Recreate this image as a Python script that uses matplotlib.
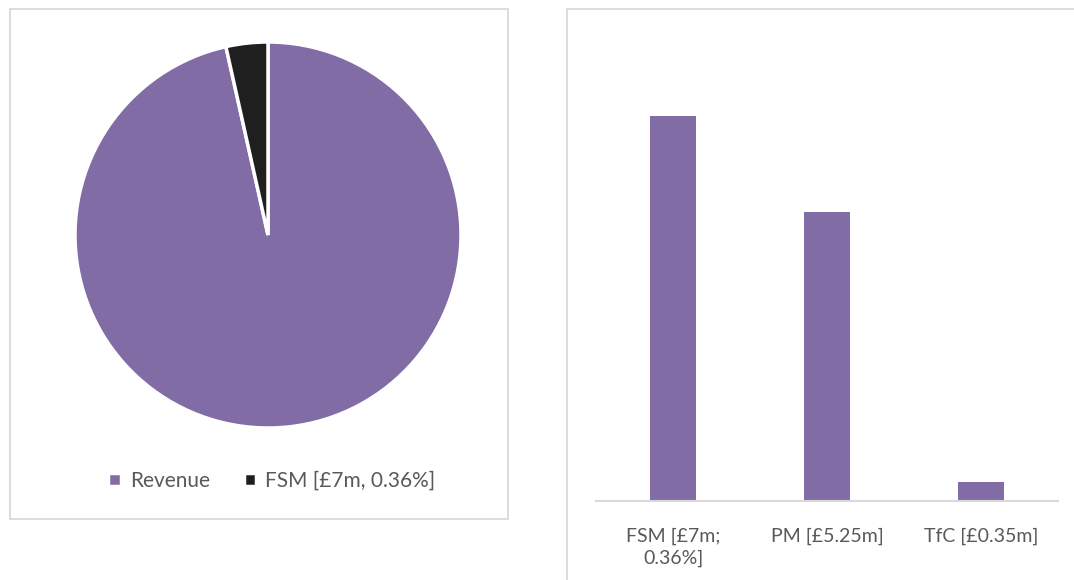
import matplotlib.pyplot as plt
from matplotlib.patches import Rectangle

plt.rcParams['font.family'] = ['Lato', 'DejaVu Sans']

# pie data
pie_labels = ['Revenue', 'FSM [£7m, 0.36%]']
pie_values = [96.5, 3.5]
pie_colors = ['#826CA6', '#1F1F1F']

# bar data
bar_labels = ['FSM [£7m;\n0.36%]', 'PM [£5.25m]', 'TfC [£0.35m]']
bar_values = [7, 5.25, 0.35]

PURPLE = '#826CA6'
TEXT = '#595959'
FRAME = '#D9D9D9'

W, H = 1074, 580
fig = plt.figure(figsize=(W / 100, H / 100), dpi=100)


def px_rect(x0, y0, x1, y1):
    # pixel box (top-left origin) -> figure fraction [l, b, w, h]
    return [x0 / W, 1 - y1 / H, (x1 - x0) / W, (y1 - y0) / H]


# panel frames
l, b, w, h = px_rect(10, 9, 508, 519)
fig.patches.append(Rectangle((l, b), w, h, transform=fig.transFigure,
                             fill=False, edgecolor=FRAME, linewidth=1.3))
l, b, w, h = px_rect(567, 9, 1080, 590)
fig.patches.append(Rectangle((l, b), w, h, transform=fig.transFigure,
                             fill=False, edgecolor=FRAME, linewidth=1.3))

# pie
ax1 = fig.add_axes(px_rect(75, 42, 461, 428))
wedges, _ = ax1.pie(pie_values, colors=pie_colors, startangle=90, counterclock=False,
                    wedgeprops=dict(edgecolor='white', linewidth=2.5))
ax1.set_xlim(-1.0, 1.0)
ax1.set_ylim(-1.0, 1.0)
ax1.set_aspect('equal')

leg = fig.legend(wedges, pie_labels, loc='center', bbox_to_anchor=((104 + 440) / 2 / W, 1 - 481 / H),
                 ncol=2, frameon=False, fontsize=15, handlelength=0.6, handleheight=0.6,
                 handletextpad=0.45, columnspacing=1.6, labelcolor=TEXT)

# bars
ax2 = fig.add_axes(px_rect(596, 61, 1058, 501))
x = range(len(bar_values))
ax2.bar(x, bar_values, width=0.305, color=PURPLE)
ax2.set_xlim(-0.5, 2.5)
ax2.set_ylim(0, 8)
ax2.set_xticks(list(x))
ax2.set_xticklabels(bar_labels, color=TEXT, fontsize=14, linespacing=1.35)
ax2.tick_params(axis='x', length=0, pad=19)
ax2.set_yticks([])
for s in ['top', 'right', 'left']:
    ax2.spines[s].set_visible(False)
ax2.spines['bottom'].set_color(FRAME)
ax2.spines['bottom'].set_linewidth(1.5)
ax2.patch.set_alpha(0)

fig.savefig('out.png', dpi=100)
